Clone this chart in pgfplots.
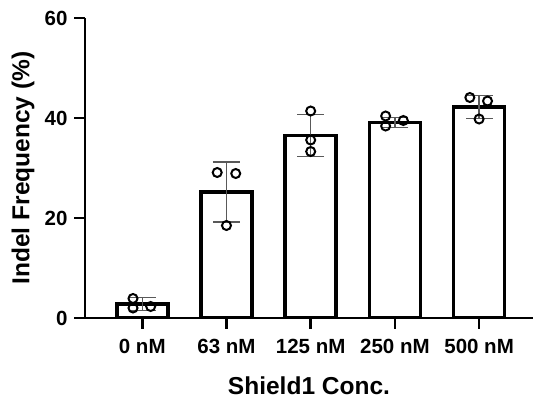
\documentclass[border=0pt]{standalone}
\usepackage{pgfplots}
\pgfplotsset{compat=1.18}
\usepackage{fontspec}
\setmainfont{Liberation Sans}
\begin{document}
\begin{tikzpicture}
\path[use as bounding box] (-85bp,-82bp) rectangle (448bp,318bp);
\begin{axis}[
  scale only axis,
  width=448bp, height=300bp,
  xmin=-0.68, xmax=4.64,
  ymin=0, ymax=60,
  axis lines=left,
  axis line style={line width=2.7bp, -},
  tick align=outside,
  major tick length=11bp,
  xtick={0,1,2,3,4},
  xticklabels={0 nM,63 nM,125 nM,250 nM,500 nM},
  ytick={0,20,40,60},
  /pgf/number format/assume math mode=true,
  ticklabel style={font=\fontsize{20.5bp}{24bp}\selectfont\bfseries},
  xticklabel style={yshift=-7bp},
  yticklabel style={xshift=-3bp},
  label style={font=\fontsize{24.5bp}{28bp}\selectfont\bfseries},
  xlabel={Shield1 Conc.},
  ylabel={Indel Frequency (\%)},
  xlabel style={at={(axis description cs:0.5,0)}, anchor=base, yshift=-76bp},
  ylabel style={at={(axis description cs:0,0.5)}, anchor=center, yshift=62bp},
  after end axis/.code={
    \foreach \xx in {0,1,2,3,4} {\draw[line width=2.7bp, black] (axis cs:\xx,0) -- ++(0,-11bp);}
    \foreach \yy in {0,20,40,60} {\draw[line width=2.7bp, black] (axis cs:-0.68,\yy) -- ++(-11bp,0);}
  },
]
\addplot[ybar, bar width=51bp, bar shift=0pt, fill=white, draw=black, line width=3.5bp]
  coordinates {(0,2.8) (1,25.2) (2,36.5) (3,39.1) (4,42.2)};
\addplot[draw=none, mark=none, forget plot,
  error bars/.cd, y dir=both, y explicit,
  error bar style={line width=1.3bp, black!65},
  error mark options={rotate=90, mark size=13.5bp, line width=1.3bp, black!65}]
  coordinates {(0,2.8) +- (0,1.3)
               (1,25.2) +- (0,6.0)
               (2,36.5) +- (0,4.2)
               (3,39.1) +- (0,1.0)
               (4,42.2) +- (0,2.3)};
\addplot[only marks, mark=o, mark size=4.5bp, line width=2bp, black, clip mode=individual]
  coordinates {
    (-0.11,3.9) (-0.11,2.0) (0.10,2.3)
    (0.89,29.1) (1.11,28.9) (1.0,18.5)
    (2.0,41.4) (2.0,35.6) (2.0,33.3)
    (2.89,40.4) (2.89,38.4) (3.10,39.5)
    (3.89,44.1) (4.10,43.4) (4.0,39.8)};
\end{axis}
\end{tikzpicture}
\end{document}
